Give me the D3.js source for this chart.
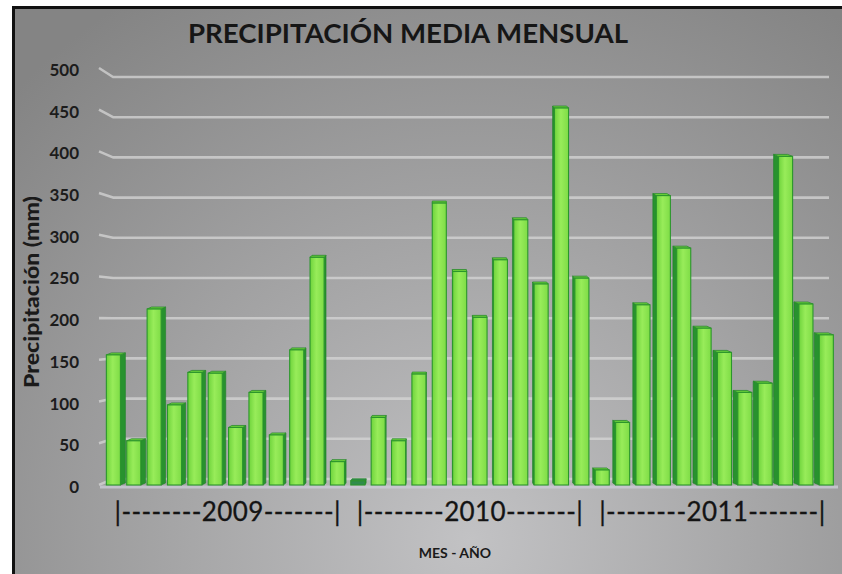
<!DOCTYPE html>
<html><head><meta charset="utf-8">
<script src="https://cdn.jsdelivr.net/npm/d3@7"></script>
<style>body{margin:0;background:#fff}svg{display:block}</style>
</head><body>
<svg id="c" width="842" height="574"></svg>
<script>
// ---- data ----
const years = ["2009", "2010", "2011"];
const months = ["Ene","Feb","Mar","Abr","May","Jun","Jul","Ago","Sep","Oct","Nov","Dic"];
const values2009 = [156, 53, 211, 96, 135, 134, 69, 111, 60, 162, 273, 28];
const values2010 = [5, 81, 53, 133, 338, 256, 201, 270, 318, 241, 452, 248];
const values2011 = [18, 75, 216, 347, 284, 188, 159, 111, 122, 394, 217, 180];
const yTicks = [0, 50, 100, 150, 200, 250, 300, 350, 400, 450, 500];
const yearLabels = ["|--------2009-------|", "|--------2010-------|", "|--------2011-------|"];
const title = "PRECIPITACIÓN MEDIA MENSUAL";
const yTitle = "Precipitación (mm)";
const xTitle = "MES - AÑO";

const seriesByYear = [values2009, values2010, values2011];
const data = [];
years.forEach((y, yi) => months.forEach((m, mi) =>
  data.push({key: y + "-" + m, year: y, value: seriesByYear[yi][mi]})));

const svg = d3.select("#c");
const defs = svg.append("defs");

// background gradient
const bg = defs.append("radialGradient").attr("id", "bg")
  .attr("gradientUnits", "userSpaceOnUse").attr("cx", 470).attr("cy", 540).attr("r", 640)
  .attr("fx", 470).attr("fy", 540);
bg.append("stop").attr("offset", "0").attr("stop-color", "#c2c2c4");
bg.append("stop").attr("offset", "0.45").attr("stop-color", "#a6a6a7");
bg.append("stop").attr("offset", "1").attr("stop-color", "#848484");

const fg = defs.append("linearGradient").attr("id", "face").attr("x1", 0).attr("x2", 1).attr("y1", 0).attr("y2", 0);
fg.append("stop").attr("offset", "0").attr("stop-color", "#6fd43c");
fg.append("stop").attr("offset", "0.45").attr("stop-color", "#98ec5a");
fg.append("stop").attr("offset", "1").attr("stop-color", "#7edc46");

svg.append("rect").attr("width", 842).attr("height", 574).attr("fill", "#fff");
svg.append("rect").attr("x", 13.5).attr("y", 7.5).attr("width", 840).attr("height", 580)
  .attr("fill", "url(#bg)").attr("stroke", "#111").attr("stroke-width", 3);

// ---- scales ----
const x = d3.scaleBand().domain(data.map(d => d.key)).range([103.2, 836.5])
  .paddingInner(0.31).paddingOuter(0.155);
const yFront = d3.scaleLinear().domain([0, 500]).range([485, 68]);
const yBack = d3.scaleLinear().domain([0, 500]).range([479, 77]);
const bw = x.bandwidth();
const xYear = d3.scaleBand().domain(years)
  .range([x(data[0].key), x(data[data.length - 1].key) + bw]);

// ---- gridlines (back wall) ----
const gl = svg.append("g");
yTicks.forEach(t => {
  const yb = yBack(t);
  const d = (yb - 320) * 0.037;
  gl.append("path")
    .attr("d", `M99,${yb + d}L113,${yb}L829,${yb}`)
    .attr("fill", "none").attr("stroke", "#d6d6d6").attr("stroke-width", 2.6)
    .attr("stroke-linejoin", "round").attr("opacity", 0.75);
});
// floor line
svg.append("line").attr("x1", 100).attr("x2", 838).attr("y1", yFront(0) + 2).attr("y2", yFront(0) + 2)
  .attr("stroke", "#cbcbd6").attr("stroke-width", 3).attr("opacity", 0.8);

// ---- bars ----
const pc = 440;
const bars = svg.append("g");
data.forEach(d => {
  const x0 = x(d.key), x1 = x0 + bw, cx = x0 + bw / 2;
  const top = yFront(d.value), base = yFront(0);
  const s = Math.min(5, Math.abs(cx - pc) / 64);
  const dir = cx < pc ? 1 : -1;
  const lift = 2;
  if (s > 0.3) {
    const ex = dir > 0 ? x1 : x0;
    bars.append("path")
      .attr("d", `M${ex},${top}L${ex + dir * s},${top - lift}L${ex + dir * s},${base - lift}L${ex},${base}Z`)
      .attr("fill", "#28922e").attr("stroke", "#1f7f28").attr("stroke-width", 0.6);
  }
  bars.append("path")
    .attr("d", `M${x0},${top}L${x0 + dir * s},${top - lift}L${x1 + dir * s},${top - lift}L${x1},${top}Z`)
    .attr("fill", d.value < 10 ? "#2f8c4c" : "#6cd23a").attr("stroke", "#2a8a2e").attr("stroke-width", 0.8);
  bars.append("rect").attr("x", x0).attr("y", top).attr("width", bw).attr("height", base - top)
    .attr("fill", d.value < 10 ? "#2f8c4c" : "url(#face)").attr("stroke", "#2b962c").attr("stroke-width", 1.1);
});

// ---- y axis labels ----
const yAxis = d3.axisLeft(yFront).tickValues(yTicks).tickSize(0).tickPadding(0);
const ya = svg.append("g").attr("transform", "translate(79,2)").call(yAxis);
ya.select(".domain").remove();
ya.selectAll("text").attr("font-family", "Lato, sans-serif").attr("font-weight", "bold")
  .attr("font-size", 17).attr("fill", "#1c1c1c");

// ---- x axis (year groups) ----
const xAxis = d3.axisBottom(xYear).tickSize(0).tickPadding(0).tickFormat((d, i) => yearLabels[i]);
const xa = svg.append("g").attr("transform", "translate(0,503)").call(xAxis);
xa.select(".domain").remove();
xa.selectAll("text").attr("font-family", "Lato, sans-serif").attr("font-size", 26)
  .attr("fill", "#141414").attr("stroke", "#141414").attr("stroke-width", 0.3).attr("dy", "0.71em")
  .attr("textLength", 226).attr("lengthAdjust", "spacing");

// ---- titles ----
svg.append("text").attr("x", 408).attr("y", 43).attr("text-anchor", "middle")
  .attr("font-family", "Lato, sans-serif").attr("font-weight", "bold").attr("font-size", 27)
  .attr("fill", "#161616").attr("textLength", 440).attr("lengthAdjust", "spacingAndGlyphs").text(title);

svg.append("text").attr("transform", "translate(39,292) rotate(-90)").attr("text-anchor", "middle")
  .attr("font-family", "Lato, sans-serif").attr("font-weight", "900").attr("font-size", 20)
  .attr("fill", "#1a1a1a").attr("textLength", 192).attr("lengthAdjust", "spacingAndGlyphs").text(yTitle);

svg.append("text").attr("x", 455).attr("y", 558).attr("text-anchor", "middle")
  .attr("font-family", "Lato, sans-serif").attr("font-weight", "bold").attr("font-size", 14)
  .attr("fill", "#1a1a1a").text(xTitle);
</script>
</body></html>
